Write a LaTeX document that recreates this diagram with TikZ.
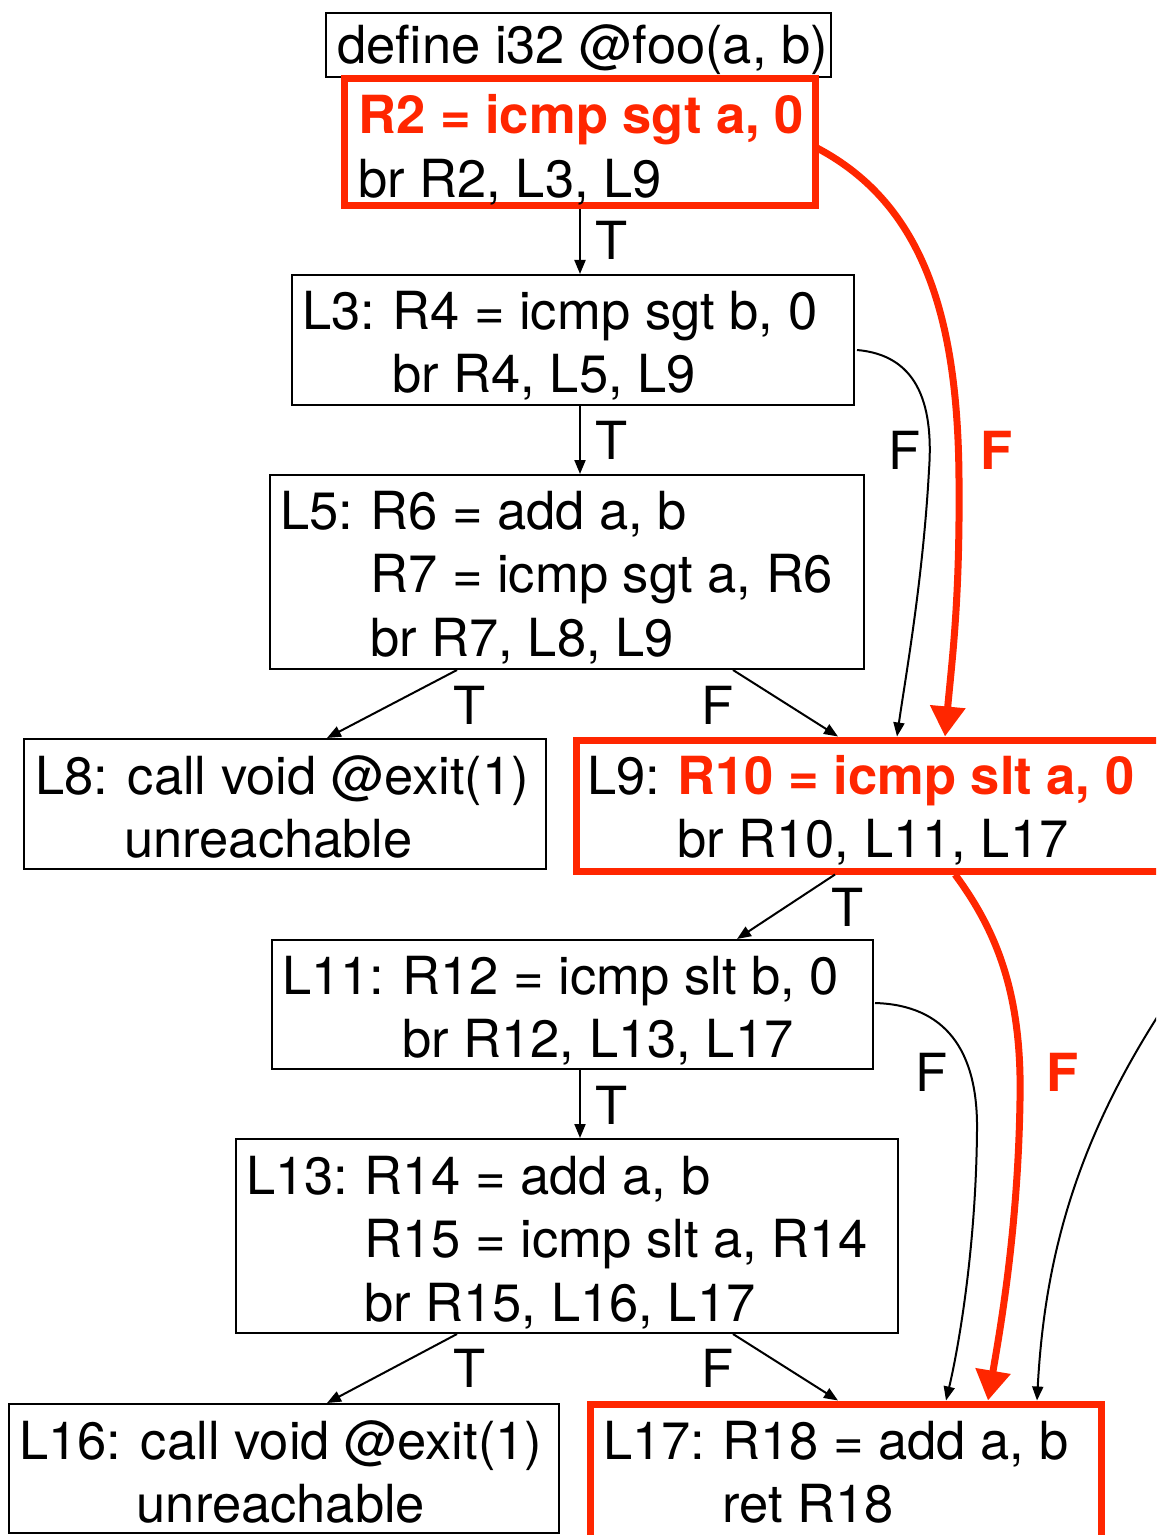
\documentclass[tikz,border=0pt]{standalone}
\usepackage{fontspec}
\setmainfont{TeX Gyre Heros}
\usetikzlibrary{arrows.meta,fit}
\definecolor{hot}{RGB}{255,38,0}
% block label set in a fixed-width slot so instructions line up
\newcommand{\blklabel}[2]{\makebox[#1][l]{#2}}
\begin{document}
\begin{tikzpicture}[x=0.5pt,y=-0.5pt,
  font=\fontsize{26.25}{31.75}\selectfont,
  blk/.style={draw=black,line width=1pt,inner sep=0pt},
  hotbox/.style={draw=hot,line width=3.5pt,inner sep=0pt},
  code/.style={anchor=base west,inner sep=0pt},
  lbl/.style={inner sep=0pt},
  hotlbl/.style={inner sep=0pt,text=hot,font=\fontsize{26.25}{31.75}\selectfont\bfseries},
  arr/.style={line width=1pt,-{Triangle[length=7pt,width=5.5pt]}},
  hotarr/.style={draw=hot,line width=3.5pt,-{Triangle[length=15pt,width=17pt]}},
]
\useasboundingbox (0,0) rectangle (1156,1535);
\clip (0,0) rectangle (1156,1535);

% basic blocks
\node[blk,    fit={(326,13) (831,77)}]     (def) {};
\node[hotbox, fit={(344,79) (815,206)}]    (r2)  {};
\node[blk,    fit={(292,275) (854,405)}]   (l3)  {};
\node[blk,    fit={(270,475) (864,669)}]   (l5)  {};
\node[blk,    fit={(24,739) (546,869)}]    (l8)  {};
\node[hotbox, fit={(576,740) (1170,871)}]  (l9)  {};
\node[blk,    fit={(272,940) (873,1069)}]  (l11) {};
\node[blk,    fit={(236,1139) (898,1333)}] (l13) {};
\node[blk,    fit={(9,1404) (559,1533)}]   (l16) {};
\node[hotbox, fit={(590,1404) (1101,1550)}] (l17) {};

% block contents
\node[code] (tdef) at (337,64) {define i32 @foo(a, b)};
\node[code] (tr2) at (358,134) {\begin{tabular}[t]{@{}l@{}}\textcolor{hot}{\bfseries R2 = icmp sgt a, 0}\\ br R2, L3, L9\end{tabular}};
\node[code] (tl3) at (302,329) {\begin{tabular}[t]{@{}l@{}l@{}}\blklabel{45pt}{L3:} & R4 = icmp sgt b, 0\\ & br R4, L5, L9\end{tabular}};
\node[code] (tl5) at (280,529) {\begin{tabular}[t]{@{}l@{}l@{}}\blklabel{45pt}{L5:} & R6 = add a, b\\ & R7 = icmp sgt a, R6\\ & br R7, L8, L9\end{tabular}};
\node[code] (tl8) at (35,794) {\begin{tabular}[t]{@{}l@{}}L8: call void @exit(1)\\ \hspace*{44.5pt}unreachable\end{tabular}};
\node[code] (tl9) at (587,794) {\begin{tabular}[t]{@{}l@{}l@{}}\blklabel{45pt}{L9:} & \textcolor{hot}{\bfseries R10 = icmp slt a, 0}\\ & br R10, L11, L17\end{tabular}};
\node[code] (tl11) at (282,994) {\begin{tabular}[t]{@{}l@{}l@{}}\blklabel{60pt}{L11:} & R12 = icmp slt b, 0\\ & br R12, L13, L17\end{tabular}};
\node[code] (tl13) at (246,1194) {\begin{tabular}[t]{@{}l@{}l@{}}\blklabel{59pt}{L13:} & R14 = add a, b\\ & R15 = icmp slt a, R14\\ & br R15, L16, L17\end{tabular}};
\node[code] (tl16) at (19,1459) {\begin{tabular}[t]{@{}c@{}}L16: call void @exit(1)\\ unreachable\end{tabular}};
\node[code] (tl17) at (603,1459) {\begin{tabular}[t]{@{}l@{}l@{}}\blklabel{59.5pt}{L17:} & R18 = add a, b\\ & ret R18\end{tabular}};

% entry of L17 from a block further right
\coordinate (offright) at (1175,990);

% branch edges
\draw[arr] (580,0 |- r2.south) -- (580,0 |- l3.north);
\draw[arr] (580,0 |- l3.south) -- (580,0 |- l5.north);
\draw[arr] (457,0 |- l5.south) -- (327,0 |- l8.north);
\draw[arr] (733,0 |- l5.south) -- (838,0 |- l9.north);
\draw[arr] (857,350) .. controls (915,355) and (934,400) .. (929,470)
                     .. controls (923,580) and (905,680) .. (897,0 |- l9.north);
\draw[hotarr] (817,148) .. controls (925,205) and (958,320) .. (959,480)
                        .. controls (960,600) and (952,660) .. (945,0 |- l9.north);
\draw[arr] (835,0 |- l9.south) -- (737,0 |- l11.north);
\draw[hotarr] (955,0 |- l9.south) .. controls (1000,935) and (1022,1000) .. (1020,1100)
                                  .. controls (1018,1230) and (1000,1330) .. (988,0 |- l17.north);
\draw[arr] (580,0 |- l11.south) -- (580,0 |- l13.north);
\draw[arr] (875,1003) .. controls (945,1005) and (978,1050) .. (977,1130)
                      .. controls (976,1250) and (958,1350) .. (946,0 |- l17.north);
\draw[arr] (457,0 |- l13.south) -- (327,0 |- l16.north);
\draw[arr] (733,0 |- l13.south) -- (838,0 |- l17.north);
\draw[arr] (offright) .. controls (1080,1130) and (1045,1250) .. (1037,0 |- l17.north);

% edge labels
\node[lbl] (t1) at (612,240) {T};
\node[lbl] (t2) at (612,440) {T};
\node[lbl] (t3) at (470,705) {T};
\node[lbl] (f3) at (718,705) {F};
\node[lbl] (f2) at (905,450) {F};
\node[hotlbl] (f1) at (997,450) {F};
\node[lbl] (t4) at (848,907) {T};
\node[lbl] (t5) at (612,1105) {T};
\node[lbl] (f5) at (932,1072) {F};
\node[hotlbl] (f4) at (1063,1072) {F};
\node[lbl] (t6) at (470,1368) {T};
\node[lbl] (f6) at (718,1368) {F};
\end{tikzpicture}
\end{document}
